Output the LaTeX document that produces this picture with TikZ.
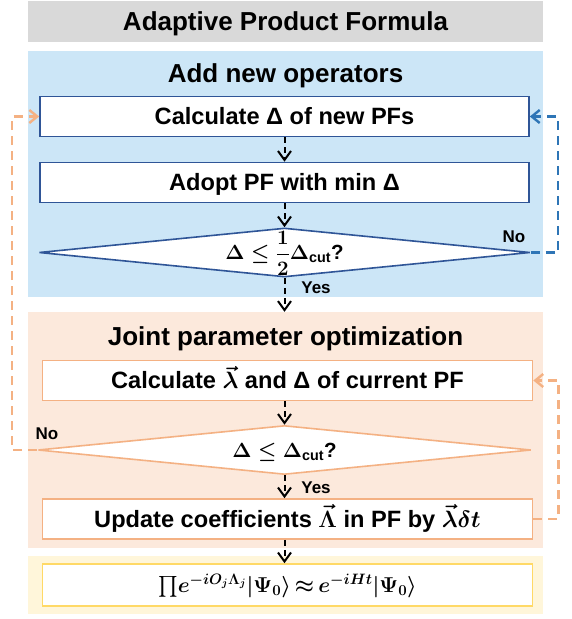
\RequirePackage{fix-cm}
\documentclass[tikz,border=0pt]{standalone}
\usepackage{amsmath}
\usepackage{fontspec}
\setmainfont{Liberation Sans}
\usetikzlibrary{calc,shapes.geometric,arrows.meta}

\definecolor{titlegray}{HTML}{D9D9D9}
\definecolor{addfill}{HTML}{CCE6F7}
\definecolor{adddraw}{HTML}{2F5597}
\definecolor{addloop}{HTML}{2E75B6}
\definecolor{jointfill}{HTML}{FCE9DC}
\definecolor{jointdraw}{HTML}{F4B183}
\definecolor{endfill}{HTML}{FFF6DA}
\definecolor{enddraw}{HTML}{FFD966}

\tikzset{
  region/.style={inner sep=0pt, minimum width=515pt},
  headtext/.style={font=\fontsize{26}{30}\selectfont\bfseries, inner sep=0pt, text height=18.6pt, text depth=0pt},
  stepbox/.style={draw, line width=1.6pt, fill=white, inner sep=0pt, minimum height=40pt,
    text height=16.9pt, text depth=0pt, font=\fontsize{23.6}{28}\selectfont\bfseries\boldmath},
  decision/.style={diamond, aspect=10, draw, line width=1.6pt, fill=white, inner sep=0pt,
    minimum width=491pt, minimum height=49pt, text height=14pt, text depth=0pt,
    font=\fontsize{20.5}{24}\selectfont\bfseries\boldmath},
  answer/.style={font=\fontsize{17}{20}\selectfont\bfseries, inner sep=0pt, text height=12.2pt, text depth=0pt},
  flow/.style={line width=2pt, dash pattern=on 6pt off 4pt,
    -{Straight Barb[length=9pt,width=13pt]}},
  loopline/.style={line width=2.4pt, dash pattern=on 9pt off 6pt,
    -{Straight Barb[length=8pt,width=13pt]}}
}

\begin{document}
\begin{tikzpicture}[x=1pt,y=-1pt]
  \useasboundingbox (0,0) rectangle (572,619);

  \node (title) at (285.5,21.5) [region, fill=titlegray, minimum height=41pt, headtext] {Adaptive Product Formula};

  \node (add) at (285.5,174) [region, fill=addfill, minimum height=246pt] {};
  \node (addhead) at (285.5,73) [headtext] {Add new operators};
  \node (calcD) at (284.5,116.5) [stepbox, draw=adddraw, minimum width=489pt] {Calculate Δ of new PFs};
  \node (adopt) at (284.5,182.5) [stepbox, draw=adddraw, minimum width=489pt] {Adopt PF with min Δ};
  \node (dia1) at (284.5,252.5) [decision, draw=adddraw] {$\Delta\le\dfrac{1}{2}\Delta_{\mathrm{cut}}$?};

  \node (joint) at (285.5,430) [region, fill=jointfill, minimum height=236pt] {};
  \node (jointhead) at (285.5,336.5) [headtext] {Joint parameter optimization};
  \node (calcL) at (287.5,380.5) [stepbox, draw=jointdraw, minimum width=490pt] {Calculate $\vec{\lambda}$ and Δ of current PF};
  \node (dia2) at (284.5,450) [decision, draw=jointdraw, minimum width=493pt] {$\Delta\le\Delta_{\mathrm{cut}}$?};
  \node (update) at (287.5,519) [stepbox, draw=jointdraw, minimum width=490pt] {Update coefficients $\vec{\Lambda}$ in PF by $\vec{\lambda}\delta t$};

  \node (endreg) at (285.5,585) [region, fill=endfill, minimum height=58pt] {};
  \node (final) at (287.5,585) [stepbox, draw=enddraw, minimum width=490pt, minimum height=42pt,
    font=\fontsize{21.5}{25}\selectfont\bfseries\boldmath, text height=14.5pt]
    {\thickmuskip=3mu$\prod\!e^{-iO_j\Lambda_j}|\Psi_0\rangle\approx e^{-iHt}|\Psi_0\rangle$};

  \foreach \a/\b in {calcD/adopt, adopt/dia1, calcL/dia2, dia2/update, update/final}
    \draw [flow] (\a.south -| calcD) -- (\b.north -| calcD);
  \draw [flow] (dia1.south) -- (dia1.south |- joint.north);

  \node (yes1) at (316,287) [answer] {Yes};
  \node (no1) at (514,236) [answer] {No};
  \node (yes2) at (316,487) [answer] {Yes};
  \node (no2) at (47,433) [answer] {No};

  \draw [loopline, addloop] (dia1.east) -- ++(27,0) |- (calcD.east);
  \draw [loopline, jointdraw] (dia2.west) -- ++(-25,0) |- (calcD.west);
  \draw [loopline, jointdraw] (update.east) -- ++(25,0) |- (calcL.east);
\end{tikzpicture}
\end{document}
